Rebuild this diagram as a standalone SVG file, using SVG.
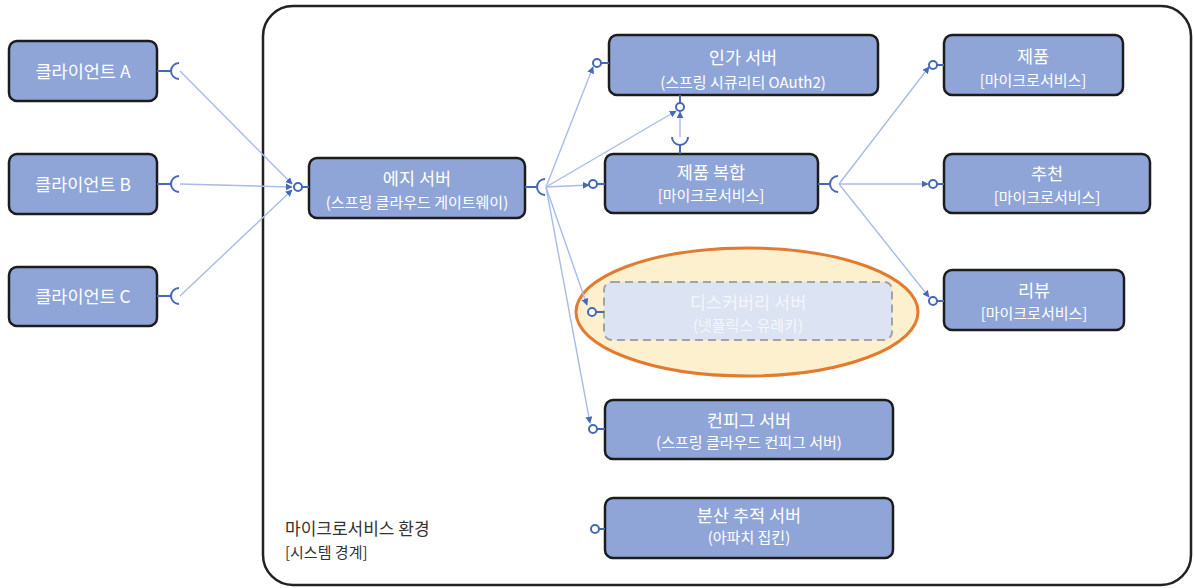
<svg xmlns="http://www.w3.org/2000/svg" width="1194" height="588" viewBox="0 0 1194 588">
<defs>
<style>
.node{fill:#8fa5d7;stroke:#1c1c1c;stroke-width:2.5}
.t{font-family:"Noto Sans CJK KR","Noto Sans",sans-serif;fill:#fff;text-anchor:middle}
.h{font-size:17.5px}
.s{font-size:15px}
.c{fill:none;stroke:#a8bce6;stroke-width:1.4}
.port{fill:#fff;stroke:#4767b8;stroke-width:2}
.pl{stroke:#4767b8;stroke-width:2;fill:none}
.sock{fill:none;stroke:#4767b8;stroke-width:2}
</style>
<marker id="ar" viewBox="0 0 10 10" refX="9" refY="5" markerWidth="7" markerHeight="7" orient="auto" markerUnits="userSpaceOnUse">
<path d="M0,0 L10,5 L0,10 z" fill="#4767b8"/>
</marker>
</defs>
<rect width="1194" height="588" fill="#fff"/>
<g id="boundary">
<rect x="263" y="6" width="928" height="579" rx="30" fill="none" stroke="#222" stroke-width="2.5"/>
<text x="285" y="534.5" font-family="'Noto Sans CJK KR',sans-serif" font-size="17" fill="#333">마이크로서비스 환경</text>
<text x="285" y="558" font-family="'Noto Sans CJK KR',sans-serif" font-size="15" fill="#333">[시스템 경계]</text>
</g>
<g id="discovery-highlight">
<ellipse cx="747" cy="312" rx="171" ry="64" fill="#fdf0cf" stroke="#e27b2f" stroke-width="3"/>
</g>
<g id="connectors">
<path class="c" d="M180,71 L292,184" marker-end="url(#ar)"/>
<path class="c" d="M180,184 L292,187" marker-end="url(#ar)"/>
<path class="c" d="M180,296 L292,190" marker-end="url(#ar)"/>
<path class="c" d="M546,187 L593,67" marker-end="url(#ar)"/>
<path class="c" d="M546,187 L676,111" marker-end="url(#ar)"/>
<path class="c" d="M546,187 L589,185" marker-end="url(#ar)"/>
<path class="c" d="M546,187 L587,305" marker-end="url(#ar)"/>
<path class="c" d="M546,187 L590,423" marker-end="url(#ar)"/>
<path class="c" d="M680,137 L680,112" marker-end="url(#ar)"/>
<path class="c" d="M839,184 L929,67" marker-end="url(#ar)"/>
<path class="c" d="M839,184 L928,184" marker-end="url(#ar)"/>
<path class="c" d="M839,184 L929,297" marker-end="url(#ar)"/>
</g>
<g id="client-a">
<rect class="node" x="9" y="41" width="148" height="60" rx="8"/>
<text class="t h" x="83" y="77.5">클라이언트 A</text>
<path class="pl" d="M157,71 H171"/><path class="sock" d="M179,63 A8,8 0 0 0 179,79"/>
</g>
<g id="client-b">
<rect class="node" x="9" y="154" width="148" height="60" rx="8"/>
<text class="t h" x="83" y="190.5">클라이언트 B</text>
<path class="pl" d="M157,184 H171"/><path class="sock" d="M179,176 A8,8 0 0 0 179,192"/>
</g>
<g id="client-c">
<rect class="node" x="9" y="267" width="148" height="59" rx="8"/>
<text class="t h" x="83" y="302.5">클라이언트 C</text>
<path class="pl" d="M157,296 H171"/><path class="sock" d="M179,288 A8,8 0 0 0 179,304"/>
</g>
<g id="edge-server">
<rect class="node" x="309" y="158" width="216" height="60" rx="8"/>
<text class="t h" x="417" y="184.5">에지 서버</text>
<text class="t s" x="417" y="207.5">(스프링 클라우드 게이트웨이)</text>
<path class="pl" d="M302,187 H309"/><circle class="port" cx="298" cy="187" r="4"/>
<path class="pl" d="M525,187 H537"/><path class="sock" d="M545,179 A8,8 0 0 0 545,195"/>
</g>
<g id="auth-server">
<rect class="node" x="609" y="35" width="269" height="60" rx="8"/>
<text class="t h" x="743" y="63.5">인가 서버</text>
<text class="t s" x="743" y="87.5">(스프링 시큐리티 OAuth2)</text>
<path class="pl" d="M601,63 H609"/><circle class="port" cx="597" cy="63" r="4"/>
<path class="pl" d="M680,95 V103"/><circle class="port" cx="680" cy="107" r="4"/>
</g>
<g id="product-composite">
<rect class="node" x="605" y="154" width="213" height="59" rx="8"/>
<text class="t h" x="711" y="178.5">제품 복합</text>
<text class="t s" x="711" y="200.5">[마이크로서비스]</text>
<path class="pl" d="M597,184 H605"/><circle class="port" cx="593" cy="184" r="4"/>
<path class="sock" d="M672,137 A8,8 0 0 0 688,137"/><path class="pl" d="M680,145 V154"/>
<path class="pl" d="M818,184 H830"/><path class="sock" d="M838,176 A8,8 0 0 0 838,192"/>
</g>
<g id="product">
<rect class="node" x="944" y="35" width="179" height="60" rx="8"/>
<text class="t h" x="1033" y="62.5">제품</text>
<text class="t s" x="1033" y="85.5">[마이크로서비스]</text>
<path class="pl" d="M937,65 H944"/><circle class="port" cx="933" cy="65" r="4"/>
</g>
<g id="recommendation">
<rect class="node" x="944" y="154" width="206" height="59" rx="8"/>
<text class="t h" x="1047" y="179.5">추천</text>
<text class="t s" x="1047" y="202.5">[마이크로서비스]</text>
<path class="pl" d="M937,184 H944"/><circle class="port" cx="933" cy="184" r="4"/>
</g>
<g id="review">
<rect class="node" x="944" y="270" width="180" height="60" rx="8"/>
<text class="t h" x="1034" y="296.5">리뷰</text>
<text class="t s" x="1034" y="318.5">[마이크로서비스]</text>
<path class="pl" d="M937,301 H944"/><circle class="port" cx="933" cy="301" r="4"/>
</g>
<g id="discovery-server">
<rect x="604" y="282" width="288" height="58" rx="8" fill="#dce3f2" stroke="#a3a3a3" stroke-width="2" stroke-dasharray="8,5"/>
<text class="t h" x="748" y="308.5" style="fill:#f4f6fb">디스커버리 서버</text>
<text class="t s" x="748" y="330.5" style="fill:#f4f6fb">(넷플릭스 유레카)</text>
<path class="pl" d="M596,312 H604"/><circle class="port" cx="592" cy="312" r="4"/>
</g>
<g id="config-server">
<rect class="node" x="605" y="400" width="288" height="59" rx="8"/>
<text class="t h" x="749" y="426.5">컨피그 서버</text>
<text class="t s" x="749" y="447.5">(스프링 클라우드 컨피그 서버)</text>
<path class="pl" d="M597,429 H605"/><circle class="port" cx="593" cy="429" r="4"/>
</g>
<g id="tracing-server">
<rect class="node" x="605" y="498" width="288" height="60" rx="8"/>
<text class="t h" x="749" y="521.5">분산 추적 서버</text>
<text class="t s" x="749" y="542.5">(아파치 집킨)</text>
<path class="pl" d="M599,529 H605"/><circle class="port" cx="595" cy="529" r="4"/>
</g>
</svg>
